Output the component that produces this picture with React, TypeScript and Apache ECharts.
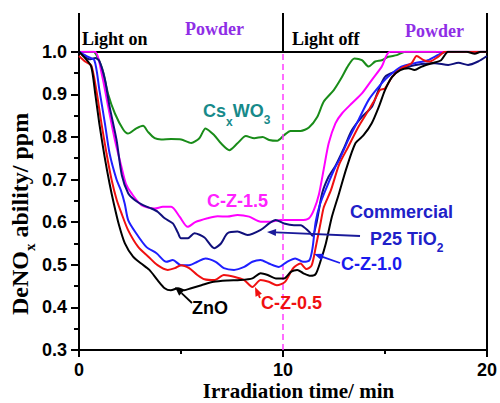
import { useEffect, useRef } from 'react';
import * as echarts from 'echarts';

// ---------- data (time / min, DeNOx ability / ppm) ----------
const xTickValues = [0, 10, 20];
const yTickValues = [0.3, 0.4, 0.5, 0.6, 0.7, 0.8, 0.9, 1.0];
const lightSwitchTime = 10;

const seriesNames = ['CsxWO3', 'C-Z-1.5', 'Commercial P25 TiO2', 'C-Z-1.0', 'C-Z-0.5', 'ZnO'];
const seriesColors = ['#198c19', '#ff00ff', '#10107c', '#1f1fff', '#f01010', '#000000'];

const csxwo3: [number, number][] = [
  [0, 1.0], [0.7, 1.0], [1.02, 0.975], [1.2, 0.95], [1.43, 0.9], [1.76, 0.855], [2.16, 0.818], [2.4, 0.808],
  [2.81, 0.82], [3.14, 0.826], [3.38, 0.812], [3.71, 0.797], [4.03, 0.794], [4.52, 0.795], [5.01, 0.794],
  [5.5, 0.786], [5.9, 0.797], [6.2, 0.82], [6.63, 0.804], [6.96, 0.785], [7.37, 0.769], [7.77, 0.785],
  [8.18, 0.802], [8.59, 0.797], [9.0, 0.8], [9.32, 0.793], [9.72, 0.791], [10.05, 0.804], [10.37, 0.814],
  [10.86, 0.814], [11.27, 0.822], [11.67, 0.846], [12.0, 0.883], [12.49, 0.91], [12.81, 0.934],
  [13.22, 0.969], [13.5, 0.984], [13.87, 0.98], [14.2, 0.965], [14.52, 0.977], [14.84, 0.98],
  [15.17, 0.988], [15.58, 0.992], [16.0, 1.0], [17.5, 1.0],
];

const cz15: [number, number][] = [
  [0, 1.0], [0.78, 1.0], [1.11, 0.949], [1.43, 0.871], [1.76, 0.793], [2.08, 0.73], [2.3, 0.69],
  [2.57, 0.668], [3.06, 0.64], [3.71, 0.632], [4.11, 0.636], [4.52, 0.636], [4.93, 0.613], [5.33, 0.589],
  [5.7, 0.6], [6.3, 0.609], [6.79, 0.614], [7.28, 0.613], [7.77, 0.617], [8.34, 0.613], [8.91, 0.601],
  [9.4, 0.601], [9.89, 0.605], [10.38, 0.605], [10.86, 0.605], [11.27, 0.609], [11.51, 0.628],
  [11.76, 0.665], [12.0, 0.725], [12.24, 0.785], [12.57, 0.832], [12.89, 0.855], [13.38, 0.879],
  [13.87, 0.902], [14.36, 0.934], [14.84, 0.965], [15.25, 1.0], [20, 1.0],
];

const p25: [number, number][] = [
  [0, 1.0], [0.25, 0.99], [0.5, 0.982], [0.8, 0.985], [1.0, 0.978], [1.27, 0.934], [1.5, 0.871],
  [1.84, 0.793], [2.1, 0.71], [2.41, 0.668], [2.73, 0.652], [3.14, 0.64], [3.55, 0.632], [3.87, 0.624],
  [4.2, 0.609], [4.6, 0.597], [4.85, 0.575], [5.0, 0.562], [5.33, 0.562], [5.66, 0.574], [6.15, 0.564],
  [6.63, 0.539], [6.96, 0.55], [7.28, 0.574], [7.77, 0.578], [8.26, 0.57], [8.91, 0.582], [9.32, 0.597],
  [9.64, 0.605], [10.05, 0.597], [10.54, 0.593], [10.86, 0.593], [11.27, 0.578], [11.45, 0.568],
  [11.65, 0.6], [11.92, 0.668], [12.24, 0.707], [12.57, 0.732], [13.0, 0.775], [13.38, 0.816],
  [13.87, 0.847], [14.36, 0.871], [14.68, 0.91], [15.0, 0.941], [15.5, 0.953], [16.15, 0.965],
  [16.8, 0.971], [17.45, 0.973], [18.1, 0.969], [18.6, 0.974], [19.07, 0.969], [19.56, 0.977], [20, 0.99],
];

const cz10: [number, number][] = [
  [0, 1.0], [0.35, 0.99], [0.75, 0.98], [1.0, 0.91], [1.27, 0.832], [1.5, 0.761], [1.84, 0.7],
  [2.05, 0.675], [2.24, 0.644], [2.41, 0.605], [2.8, 0.574], [3.3, 0.542], [3.8, 0.527], [4.28, 0.507],
  [4.6, 0.511], [5.0, 0.499], [5.4, 0.499], [5.8, 0.507], [6.2, 0.515], [6.7, 0.507], [7.1, 0.492],
  [7.6, 0.488], [8.1, 0.495], [8.5, 0.507], [8.9, 0.511], [9.3, 0.503], [9.8, 0.495], [10.2, 0.507],
  [10.6, 0.515], [11.0, 0.507], [11.3, 0.511], [11.45, 0.54], [11.6, 0.6], [11.8, 0.64], [12.15, 0.683],
  [12.57, 0.73], [12.75, 0.745], [13.2, 0.793], [13.7, 0.84], [14.2, 0.887], [14.7, 0.918],
  [15.15, 0.941], [15.8, 0.965], [16.45, 0.973], [17.1, 0.98], [17.75, 0.996], [18.1, 1.0], [20, 1.0],
];

const cz05: [number, number][] = [
  [0, 0.99], [0.3, 0.977], [0.6, 0.968], [0.85, 0.91], [1.1, 0.832], [1.35, 0.761], [1.6, 0.699],
  [1.85, 0.652], [2.08, 0.621], [2.4, 0.582], [2.9, 0.542], [3.4, 0.519], [3.85, 0.499], [4.35, 0.488],
  [4.7, 0.492], [5.0, 0.499], [5.4, 0.492], [5.8, 0.476], [6.15, 0.466], [6.65, 0.464], [7.1, 0.476],
  [7.6, 0.472], [8.1, 0.464], [8.5, 0.448], [8.9, 0.464], [9.3, 0.46], [9.7, 0.452], [10.1, 0.46],
  [10.5, 0.492], [10.85, 0.503], [11.15, 0.49], [11.4, 0.498], [11.6, 0.54], [11.85, 0.6], [12.0, 0.635],
  [12.35, 0.675], [12.75, 0.735], [13.2, 0.777], [13.7, 0.824], [14.2, 0.863], [14.5, 0.887],
  [14.75, 0.91], [15.0, 0.914], [15.35, 0.941], [15.8, 0.961], [16.3, 0.973], [16.55, 0.99],
  [16.9, 0.98], [17.2, 0.977], [17.6, 0.988], [17.95, 1.0], [20, 1.0],
];

const zno: [number, number][] = [
  [0, 1.0], [0.3, 0.985], [0.6, 0.965], [0.8, 0.9], [1.0, 0.83], [1.25, 0.755], [1.5, 0.69],
  [1.7, 0.645], [1.95, 0.595], [2.25, 0.55], [2.65, 0.519], [3.05, 0.503], [3.45, 0.488], [3.85, 0.464],
  [4.2, 0.445], [4.5, 0.44], [4.85, 0.445], [5.15, 0.44], [5.5, 0.445], [6.0, 0.452], [6.6, 0.46],
  [7.3, 0.463], [7.9, 0.464], [8.5, 0.468], [8.9, 0.48], [9.25, 0.476], [9.65, 0.468], [10.05, 0.468],
  [10.4, 0.484], [10.7, 0.488], [11.0, 0.48], [11.35, 0.474], [11.6, 0.478], [11.85, 0.51], [12.1, 0.55],
  [12.4, 0.613], [12.75, 0.668], [13.1, 0.725], [13.55, 0.785], [13.95, 0.804], [14.35, 0.832],
  [14.7, 0.871], [15.0, 0.91], [15.35, 0.941], [15.75, 0.957], [16.15, 0.961], [16.45, 0.957],
  [16.8, 0.965], [17.3, 0.973], [17.75, 0.98], [18.1, 1.0], [19.0, 1.0], [19.4, 0.995], [19.7, 1.0], [20, 1.0],
];

const seriesData = [csxwo3, cz15, p25, cz10, cz05, zno];

const SANS = '"Liberation Sans", Arial, sans-serif';
const SERIF = '"Liberation Serif", "Times New Roman", serif';

export default function App() {
  const ref = useRef<HTMLDivElement>(null);

  useEffect(() => {
    const chart = echarts.init(ref.current!, null, { renderer: 'svg' });
    const ctx = document.createElement('canvas').getContext('2d')!;
    const mw = (t: string, font: string) => {
      ctx.font = font;
      return ctx.measureText(t).width;
    };

    const gridLeft = 79;
    const gridRight = 11;
    const gridTop = 51.7;
    const gridBottom = 53;
    const headerTop = 13;

    const option: any = {
      animation: false,
      backgroundColor: '#ffffff',
      grid: { left: gridLeft, right: gridRight, top: gridTop, bottom: gridBottom },
      xAxis: [
        {
          type: 'value', min: 0, max: 20, interval: 10,
          axisLine: { show: true, lineStyle: { color: '#000', width: 2 } },
          axisTick: { show: true, inside: false, length: 7, lineStyle: { color: '#000', width: 2 } },
          minorTick: { show: true, splitNumber: 2, length: 4, lineStyle: { color: '#000', width: 2 } },
          axisLabel: {
            margin: 11, color: '#000', fontFamily: SANS, fontWeight: 'bold', fontSize: 18,
            formatter: (v: number) => (xTickValues.includes(v) ? String(v) : ''),
          },
          splitLine: { show: false },
        },
        {
          type: 'value', min: 0, max: 20, position: 'top',
          axisLine: { show: true, onZero: false, lineStyle: { color: '#000', width: 2 } },
          axisTick: { show: false }, axisLabel: { show: false }, splitLine: { show: false },
        },
      ],
      yAxis: [
        {
          type: 'value', min: 0.3, max: 1.0, interval: 0.1,
          axisLine: { show: true, lineStyle: { color: '#000', width: 2 } },
          axisTick: { show: true, inside: false, length: 8, lineStyle: { color: '#000', width: 2 } },
          minorTick: { show: true, splitNumber: 2, length: 5, lineStyle: { color: '#000', width: 2 } },
          axisLabel: {
            margin: 12, color: '#000', fontFamily: SANS, fontWeight: 'bold', fontSize: 18,
            formatter: (v: number) => {
              const hit = yTickValues.find((t) => Math.abs(t - v) < 1e-6);
              return hit !== undefined ? hit.toFixed(1) : '';
            },
          },
          splitLine: { show: false },
        },
        {
          type: 'value', min: 0.3, max: 1.0, position: 'right',
          axisLine: { show: true, onZero: false, lineStyle: { color: '#000', width: 2 } },
          axisTick: { show: false }, axisLabel: { show: false }, splitLine: { show: false },
        },
      ],
      series: seriesData.map((d, i) => ({
        name: seriesNames[i],
        type: 'line',
        data: d,
        xAxisIndex: 0,
        yAxisIndex: 0,
        showSymbol: false,
        smooth: 0.25,
        lineStyle: { color: seriesColors[i], width: 2 },
        itemStyle: { color: seriesColors[i] },
        z: 2 + i,
        markLine: i === 0 ? {
          silent: true,
          symbol: ['none', 'none'],
          label: { show: false },
          lineStyle: { color: '#ff3cff', type: [6, 4], width: 1.5 },
          data: [{ xAxis: lightSwitchTime }],
        } : undefined,
      })),
    };
    chart.setOption(option);

    const px = (x: number, y: number) => chart.convertToPixel({ gridIndex: 0 }, [x, y]) as number[];
    const pLeft = px(0, 1.0);
    const pMid = px(lightSwitchTime, 1.0);
    const pRight = px(20, 1.0);

    const vline = (x: number) => ({
      type: 'line', shape: { x1: x, y1: headerTop, x2: x, y2: pLeft[1] },
      style: { stroke: '#000', lineWidth: 2 }, z: 50,
    });

    const txt = (text: string, x: number, y: number, font: string, fill: string, align = 'left') => ({
      type: 'text', x, y, z: 60,
      style: { text, font, fill, textAlign: align, textVerticalAlign: 'middle', align, verticalAlign: 'middle' },
    });

    const arrow = (x1: number, y1: number, x2: number, y2: number, color: string) => {
      const ang = Math.atan2(y2 - y1, x2 - x1);
      const L = 9, W = 3.5;
      const bx = x2 - L * Math.cos(ang), by = y2 - L * Math.sin(ang);
      const nx = -Math.sin(ang), ny = Math.cos(ang);
      return [
        { type: 'line', z: 55, shape: { x1, y1, x2: bx, y2: by }, style: { stroke: color, lineWidth: 1.8 } },
        {
          type: 'polygon', z: 55,
          shape: { points: [[x2, y2], [bx + nx * W, by + ny * W], [bx - nx * W, by - ny * W]] },
          style: { fill: color },
        },
      ];
    };

    const fLab = `bold 18px ${SANS}`;
    const fSub = `bold 12px ${SANS}`;
    const fHead = `bold 18px ${SERIF}`;

    // Cs_x WO_3
    const csX = 203;
    const wCs = mw('Cs', fLab);
    const wx = mw('x', fSub);
    const wWO = mw('WO', fLab);
    // P25 TiO_2
    const wP25 = mw('P25 TiO', fLab);

    // y-axis name
    const fYName = `bold 24px ${SERIF}`;
    const fYSub = `bold 15px ${SERIF}`;
    const wDeNO = mw('DeNO', fYName);
    const wYx = mw('x', fYSub);

    const graphic: any[] = [
      vline(pLeft[0]), vline(pMid[0]), vline(pRight[0]),
      txt('Light on', 82, 39, fHead, '#000'),
      txt('Powder', 185, 29, fHead, '#8f2ee6'),
      txt('Light off', 292, 39, fHead, '#000'),
      txt('Powder', 405, 30.5, fHead, '#8f2ee6'),

      txt('Cs', csX, 111, fLab, '#178a8a'),
      txt('x', csX + wCs, 122, fSub, '#178a8a'),
      txt('WO', csX + wCs + wx, 111, fLab, '#178a8a'),
      txt('3', csX + wCs + wx + wWO, 120, fSub, '#178a8a'),

      txt('C-Z-1.5', 207, 201, fLab, '#ff22ff'),
      txt('Commercial', 350, 212, fLab, '#2020c8'),
      txt('P25 TiO', 370, 238.5, fLab, '#2020c8'),
      txt('2', 370 + wP25, 248, fSub, '#2020c8'),
      txt('C-Z-1.0', 341, 264, fLab, '#1a1aee'),
      txt('C-Z-0.5', 261, 303, fLab, '#f01010'),
      txt('ZnO', 192, 308, fLab, '#000'),

      ...arrow(360, 236, 267, 232, '#1a1a9a'),
      ...arrow(340, 263, 314, 254, '#1a1aee'),
      ...arrow(260, 298, 255, 287, '#f01010'),
      ...arrow(192, 303, 175, 287, '#000'),

      txt('Irradiation time/ min', 298.5, 391, `bold 21px ${SERIF}`, '#000', 'center'),
      {
        type: 'group', x: 20, y: 315, rotation: Math.PI / 2, z: 60,
        children: [
          { type: 'text', x: 0, y: 0, style: { text: 'DeNO', font: fYName, fill: '#000', textAlign: 'left', textVerticalAlign: 'middle', align: 'left', verticalAlign: 'middle' } },
          { type: 'text', x: wDeNO, y: 10, style: { text: 'x', font: fYSub, fill: '#000', textAlign: 'left', textVerticalAlign: 'middle', align: 'left', verticalAlign: 'middle' } },
          { type: 'text', x: wDeNO + wYx, y: 0, style: { text: ' ability/ ppm', font: fYName, fill: '#000', textAlign: 'left', textVerticalAlign: 'middle', align: 'left', verticalAlign: 'middle' } },
        ],
      },
    ];
    chart.setOption({ graphic });

    return () => chart.dispose();
  }, []);

  return <div ref={ref} style={{ position: 'absolute', left: 0, top: 0, width: 500, height: 403 }} />;
}
